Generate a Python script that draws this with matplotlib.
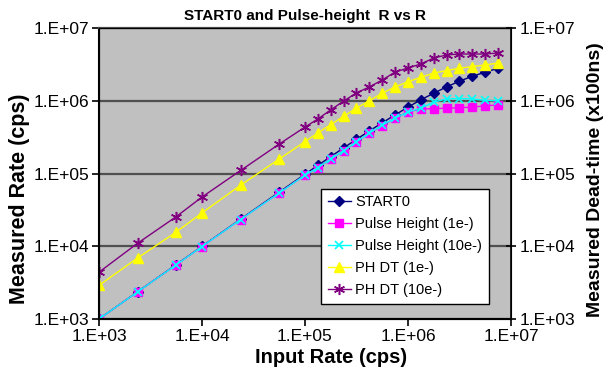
import matplotlib
matplotlib.use('Agg')
from matplotlib import pyplot as plt
from matplotlib.ticker import FixedFormatter, NullLocator, FixedLocator

plt.rcParams['font.family'] = ['Liberation Sans', 'DejaVu Sans']

# input rates (cps)
input_rate = [1e3, 2.37e3, 5.62e3, 1e4, 2.37e4, 5.62e4,
              1e5, 1.33e5, 1.78e5, 2.37e5, 3.16e5, 4.22e5, 5.62e5, 7.5e5,
              1e6, 1.33e6, 1.78e6, 2.37e6, 3.16e6, 4.22e6, 5.62e6, 7.5e6]

start0 = [1e3, 2.37e3, 5.6e3, 9.98e3, 2.36e4, 5.55e4,
          9.78e4, 1.29e5, 1.71e5, 2.25e5, 2.95e5, 3.85e5, 4.98e5, 6.39e5,
          8.17e5, 1.03e6, 1.27e6, 1.55e6, 1.86e6, 2.17e6, 2.47e6, 2.8e6]

ph_1e = [1e3, 2.36e3, 5.55e3, 9.9e3, 2.33e4, 5.4e4,
         9.5e4, 1.19e5, 1.58e5, 2.04e5, 2.71e5, 3.6e5, 4.5e5, 5.8e5,
         7.0e5, 7.7e5, 7.8e5, 7.9e5, 8.0e5, 8.2e5, 8.5e5, 8.8e5]

ph_10e = [1e3, 2.36e3, 5.55e3, 9.9e3, 2.33e4, 5.4e4,
          9.5e4, 1.2e5, 1.59e5, 2.06e5, 2.72e5, 3.6e5, 4.6e5, 5.8e5,
          7.0e5, 7.9e5, 9.6e5, 1.06e6, 1.07e6, 1.06e6, 1.01e6, 1.0e6]

phdt_1e = [2.9e3, 6.9e3, 1.57e4, 2.87e4, 6.9e4, 1.58e5,
           2.75e5, 3.6e5, 4.7e5, 6.1e5, 7.9e5, 1.0e6, 1.27e6, 1.55e6,
           1.82e6, 2.1e6, 2.4e6, 2.6e6, 2.8e6, 2.95e6, 3.1e6, 3.3e6]

phdt_10e = [4.4e3, 1.1e4, 2.55e4, 4.75e4, 1.1e5, 2.54e5,
            4.35e5, 5.6e5, 7.5e5, 9.9e5, 1.28e6, 1.55e6, 1.93e6, 2.48e6,
            2.82e6, 3.2e6, 3.87e6, 4.26e6, 4.39e6, 4.39e6, 4.39e6, 4.53e6]

decades = [1e3, 1e4, 1e5, 1e6, 1e7]
tick_labels = ['1.E+03', '1.E+04', '1.E+05', '1.E+06', '1.E+07']

fig = plt.figure(figsize=(6.11, 3.81), dpi=100)
ax = fig.add_axes([99/611, 1-319/381, 412/611, 291/381])
ax.set_facecolor('#C0C0C0')

ax.plot(input_rate, start0, color='#000080', lw=1, marker='D', ms=5,
        label='START0')
ax.plot(input_rate, ph_1e, color='#FF00FF', lw=1, marker='s', ms=5.5,
        label='Pulse Height (1e-)')
ax.plot(input_rate, ph_10e, color='#00FFFF', lw=1, marker='x', ms=6, mew=1.2,
        label='Pulse Height (10e-)')
ax.plot(input_rate, phdt_1e, color='#FFFF00', lw=1, marker='^', ms=7,
        label='PH DT (1e-)')
ax.plot(input_rate, phdt_10e, color='#800080', lw=1, marker=(6, 2, 0), ms=8, mew=1.1,
        label='PH DT (10e-)')

ax.set_xscale('log')
ax.set_yscale('log')
ax.set_xlim(1e3, 1e7)
ax.set_ylim(1e3, 1e7)

for a in ['x', 'y']:
    getattr(ax, a + 'axis').set_major_locator(FixedLocator(decades))
    getattr(ax, a + 'axis').set_major_formatter(FixedFormatter(tick_labels))
    getattr(ax, a + 'axis').set_minor_locator(NullLocator())

ax.grid(axis='y', color='#505050', lw=1.6)
ax.set_axisbelow(True)
ax.tick_params(direction='out', length=5, width=1.2, labelsize=12.5, pad=2)

ax.spines['left'].set_linewidth(1.5)
ax.spines['bottom'].set_linewidth(1.5)
ax.spines['top'].set_color('#505050')
ax.spines['top'].set_linewidth(1.6)
ax.spines['right'].set_linewidth(1.2)

ax2 = ax.twinx()
ax2.set_yscale('log')
ax2.set_ylim(1e3, 1e7)
ax2.yaxis.set_major_locator(FixedLocator(decades))
ax2.yaxis.set_major_formatter(FixedFormatter(tick_labels))
ax2.yaxis.set_minor_locator(NullLocator())
ax2.tick_params(direction='inout', length=7, width=1.2, labelsize=12.5, pad=3)
ax2.set_ylabel('Measured Dead-time (x100ns)', fontsize=14, fontweight='bold')
ax2.yaxis.set_label_coords(1.185, 0.48)

ax.set_title('START0 and Pulse-height  R vs R', fontsize=11, fontweight='bold', pad=6)
ax.set_xlabel('Input Rate (cps)', fontsize=14.5, fontweight='bold')
ax.xaxis.set_label_coords(0.563, -0.1)
ax.set_ylabel('Measured Rate (cps)', fontsize=15.5, fontweight='bold')
ax.yaxis.set_label_coords(-0.167, 0.414)

leg = ax.legend(loc='lower left', bbox_to_anchor=(0.539, 0.052), fontsize=10.5,
                fancybox=False, framealpha=1, edgecolor='black', handlelength=1.6,
                handletextpad=0.3, labelspacing=0.55, borderpad=0.45, borderaxespad=0)
leg.get_frame().set_linewidth(1)

fig.savefig('out.png', dpi=100)
